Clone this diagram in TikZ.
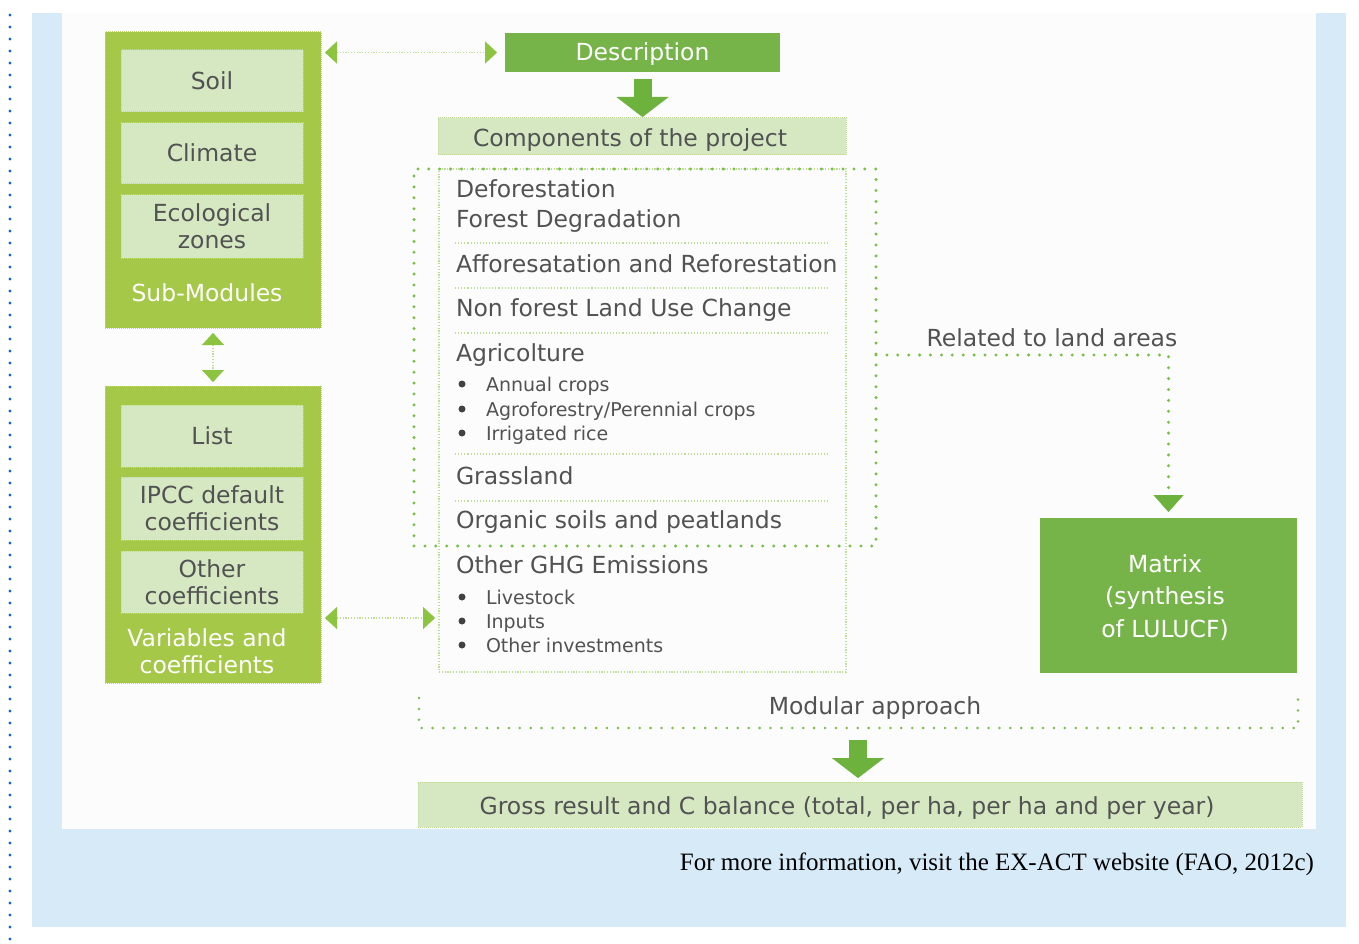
\documentclass[tikz,border=0pt]{standalone}
\usepackage{fontspec}
\setmainfont{DejaVu Sans}
\newfontfamily\footfont{Liberation Serif}
\usetikzlibrary{arrows.meta,calc}
\definecolor{panelblue}{RGB}{214,234,248}
\definecolor{dotblue}{RGB}{21,101,192}
\definecolor{boxgreen}{RGB}{165,200,72}
\definecolor{boxedge}{RGB}{190,218,120}
\definecolor{palegreen}{RGB}{214,232,194}
\definecolor{paleedge}{RGB}{190,218,150}
\definecolor{darkgreen}{RGB}{118,180,74}
\definecolor{arrowgreen}{RGB}{108,178,60}
\definecolor{tipgreen}{RGB}{140,196,64}
\definecolor{dotgreen}{RGB}{120,190,72}
\definecolor{thingreen}{RGB}{190,222,150}
\definecolor{txtgray}{RGB}{82,82,82}
\begin{document}
\begin{tikzpicture}[x=1pt,y=-1pt,
  every node/.style={inner sep=0pt,outer sep=0pt},
  big/.style={font=\fontsize{23.5}{27}\selectfont},
  small/.style={font=\fontsize{19}{22}\selectfont},
  one/.style={text height=17pt,text depth=0pt},
  gtxt/.style={big,text=txtgray},
  wtxt/.style={big,text=white},
  stxt/.style={small,text=txtgray,text height=14pt,text depth=0pt,anchor=west},
  outerbox/.style={fill=boxgreen,draw=boxedge,line width=1pt,dash pattern=on 1pt off 1pt,minimum width=216pt},
  innerbox/.style={fill=palegreen,draw=paleedge,line width=1pt,dash pattern=on 1pt off 1pt,minimum width=182pt,text=txtgray,big,align=center},
  solidbox/.style={fill=darkgreen,text=white,big},
  bigdots/.style={draw=dotgreen,line width=3.3pt,line cap=round,dash pattern=on 0pt off 10.9pt},
  thindot/.style={draw=thingreen,line width=1.2pt,dash pattern=on 1.2pt off 1.6pt},
  sep/.style={draw=thingreen,line width=1.1pt,dash pattern=on 1.1pt off 2pt},
  smalltip/.style={{Triangle[width=22pt,length=12pt,color=tipgreen,line width=0.1pt]}-{Triangle[width=22pt,length=12pt,color=tipgreen,line width=0.1pt]}},
  bigarrow/.style={draw=arrowgreen,line width=18pt,-{Triangle[width=52pt,length=20pt,color=arrowgreen,line width=0.1pt]}},
  bul/.style={fill=txtgray!80!black,circle,minimum size=7pt}
]
\useasboundingbox (0,0) rectangle (1359,944);
\fill[white] (0,0) rectangle (1359,944);
% panel
\fill[panelblue] (32,13) rectangle (1346,927);
\fill[white!99!black] (62,13) rectangle (1316,829);
\foreach \yy in {15,27,...,939} \fill[dotblue] (10,\yy) circle (1.7);

% left column: sub-modules
\node[outerbox,minimum height=296pt] (sub) at (213,180) {};
\node[innerbox,one,minimum height=62pt] (soil) at (212,81) {Soil};
\node[innerbox,one,minimum height=61pt] (climate) at (212,153.5) {Climate};
\node[innerbox,minimum height=63pt] (eco) at (212,226.5) {Ecological\\zones};
\node[wtxt,one] (subl) at (207,293) {Sub-Modules};

% left column: variables
\node[outerbox,minimum height=297pt] (var) at (213,534.5) {};
\node[innerbox,one,minimum height=62pt] (list) at (212,436) {List};
\node[innerbox,minimum height=63pt] (ipcc) at (212,508.5) {IPCC default\\coefficients};
\node[innerbox,minimum height=62pt] (other) at (212,582) {Other\\coefficients};
\node[wtxt,align=center] (varl) at (207,651.5) {Variables and\\coefficients};

% description & components
\node[solidbox,one,minimum width=275pt,minimum height=39pt] (desc) at (642.5,52.5) {Description};
\node[fill=palegreen,draw=paleedge,line width=1pt,dash pattern=on 1pt off 1pt,minimum width=408pt,minimum height=37pt] (comp) at (642,136.5) {};
\node[gtxt,one] (compl) at (630,138) {Components of the project};

% list frames
\node[thindot,minimum width=407pt,minimum height=503pt] (listbox) at (642.5,420.5) {};
\node[bigdots,minimum width=462pt,minimum height=377pt] (land) at (645,357.5) {};

% separators
\foreach \yy in {243,288,333,454,501} \draw[sep] (455,\yy) -- (830,\yy);

% list texts
\node[gtxt,one,anchor=west] (t1) at (456,189) {Deforestation};
\node[gtxt,one,anchor=west] (t2) at (456,219) {Forest Degradation};
\node[gtxt,one,anchor=west] (t3) at (456,264) {Afforesatation and Reforestation};
\node[gtxt,one,anchor=west] (t4) at (456,308) {Non forest Land Use Change};
\node[gtxt,one,anchor=west] (t5) at (456,353) {Agricolture};
\node[bul] (b1) at (462,384) {};
\node[stxt] (s1) at (486,384) {Annual crops};
\node[bul] (b2) at (462,409) {};
\node[stxt] (s2) at (486,409) {Agroforestry/Perennial crops};
\node[bul] (b3) at (462,433) {};
\node[stxt] (s3) at (486,433) {Irrigated rice};
\node[gtxt,one,anchor=west] (t6) at (456,476) {Grassland};
\node[gtxt,one,anchor=west] (t7) at (456,520) {Organic soils and peatlands};
\node[gtxt,one,anchor=west] (t8) at (456,565) {Other GHG Emissions};
\node[bul] (b4) at (462,597) {};
\node[stxt] (s4) at (486,597) {Livestock};
\node[bul] (b5) at (462,621) {};
\node[stxt] (s5) at (486,621) {Inputs};
\node[bul] (b6) at (462,645) {};
\node[stxt] (s6) at (486,645) {Other investments};

% matrix
\node[solidbox,minimum width=257pt,minimum height=155pt] (matrix) at (1168.5,595.5) {};
\node[wtxt,align=center,font=\fontsize{23.5}{32.5}\selectfont] (matl) at (1165,597.5) {Matrix\\(synthesis\\of LULUCF)};
\node[gtxt,one] (rell) at (1052,338) {Related to land areas};
\coordinate (rely) at (0,355);
\draw[bigdots,-{Triangle[width=30pt,length=17pt,color=arrowgreen,line width=0.1pt]},shorten >=6pt] (land.east |- rely) -| (matrix.north);

% modular approach
\draw[bigdots,line width=2.8pt] (419,698) -- (419,728) -- (1298,728) -- (1298,698);
\node[gtxt,one] (modl) at (875,706) {Modular approach};
\coordinate (modbot) at (858,728);
\node[fill=palegreen,draw=paleedge,line width=1pt,dash pattern=on 1pt off 1pt,minimum width=884pt,minimum height=45pt] (gross) at (860,804.5) {};
\node[gtxt,one] (grossl) at (847,806) {Gross result and C balance (total, per ha, per ha and per year)};

% connectors
\draw[thindot,smalltip,shorten <=4pt,shorten >=8pt] (sub.east |- desc.west) -- (desc.west);
\draw[thindot,smalltip,shorten <=5pt,shorten >=4pt] (sub.south) -- (var.north);
\coordinate (ghgin) at (439,618);
\draw[thindot,smalltip,shorten <=4pt,shorten >=4pt] (var.east |- ghgin) -- (ghgin);
\draw[bigarrow,shorten <=7pt,shorten >=1pt] (desc.south) -- (desc.south |- comp.north);
\draw[bigarrow,shorten <=12pt,shorten >=4pt] (modbot) -- (modbot |- gross.north);

% footnote
\node[font=\footfont\fontsize{25}{30}\selectfont,anchor=east,text height=17pt,text depth=0pt] (foot) at (1314,862) {For more information, visit the EX-ACT website (FAO, 2012c)};
\end{tikzpicture}
\end{document}
